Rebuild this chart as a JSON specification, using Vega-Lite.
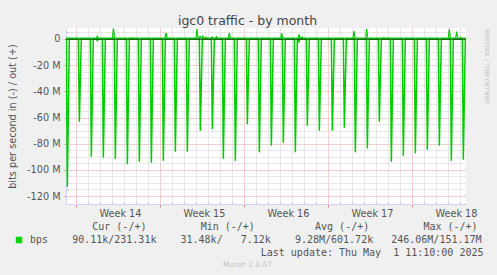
{
  "$schema": "https://vega.github.io/schema/vega-lite/v6.json",
  "width": 400,
  "height": 176,
  "autosize": {"type": "none"},
  "padding": {"left": 66, "top": 28, "right": 31, "bottom": 71},
  "background": "#F0F0F0",
  "title": {"text": "igc0 traffic - by month", "anchor": "middle", "frame": "group", "dx": -18.5, "offset": -9, "baseline": "alphabetic", "font": "DejaVu Sans", "fontSize": 12.5, "fontWeight": "normal", "color": "#444444"},
  "datasets": {
    "traffic": [
      {"t": "2025-03-29T03:10:00Z", "mbps": 0, "s": "in"},
      {"t": "2025-03-29T03:50:00Z", "mbps": 0, "s": "in"}, {"t": "2025-03-29T05:50:00Z", "mbps": -112.9, "s": "in"}, {"t": "2025-03-29T09:50:00Z", "mbps": 0, "s": "in"},
      {"t": "2025-03-30T03:50:00Z", "mbps": 0, "s": "in"}, {"t": "2025-03-30T05:50:00Z", "mbps": -63.2, "s": "in"}, {"t": "2025-03-30T09:50:00Z", "mbps": 0, "s": "in"},
      {"t": "2025-03-31T03:50:00Z", "mbps": 0, "s": "in"}, {"t": "2025-03-31T05:50:00Z", "mbps": -90.0, "s": "in"}, {"t": "2025-03-31T09:50:00Z", "mbps": 0, "s": "in"},
      {"t": "2025-03-31T15:50:00Z", "mbps": 0, "s": "in"}, {"t": "2025-03-31T17:50:00Z", "mbps": -1.3, "s": "in"}, {"t": "2025-03-31T19:50:00Z", "mbps": 0, "s": "in"},
      {"t": "2025-04-01T03:50:00Z", "mbps": 0, "s": "in"}, {"t": "2025-04-01T05:50:00Z", "mbps": -90.7, "s": "in"}, {"t": "2025-04-01T09:50:00Z", "mbps": 0, "s": "in"},
      {"t": "2025-04-02T03:50:00Z", "mbps": 0, "s": "in"}, {"t": "2025-04-02T05:50:00Z", "mbps": -91.7, "s": "in"}, {"t": "2025-04-02T09:50:00Z", "mbps": 0, "s": "in"},
      {"t": "2025-04-03T03:50:00Z", "mbps": 0, "s": "in"}, {"t": "2025-04-03T05:50:00Z", "mbps": -95.8, "s": "in"}, {"t": "2025-04-03T09:50:00Z", "mbps": 0, "s": "in"},
      {"t": "2025-04-04T03:50:00Z", "mbps": 0, "s": "in"}, {"t": "2025-04-04T05:50:00Z", "mbps": -93.8, "s": "in"}, {"t": "2025-04-04T09:50:00Z", "mbps": 0, "s": "in"},
      {"t": "2025-04-05T03:50:00Z", "mbps": 0, "s": "in"}, {"t": "2025-04-05T05:50:00Z", "mbps": -94.6, "s": "in"}, {"t": "2025-04-05T09:50:00Z", "mbps": 0, "s": "in"},
      {"t": "2025-04-06T03:50:00Z", "mbps": 0, "s": "in"}, {"t": "2025-04-06T05:50:00Z", "mbps": -93.0, "s": "in"}, {"t": "2025-04-06T09:50:00Z", "mbps": 0, "s": "in"},
      {"t": "2025-04-07T03:50:00Z", "mbps": 0, "s": "in"}, {"t": "2025-04-07T05:50:00Z", "mbps": -86.1, "s": "in"}, {"t": "2025-04-07T09:50:00Z", "mbps": 0, "s": "in"},
      {"t": "2025-04-08T03:50:00Z", "mbps": 0, "s": "in"}, {"t": "2025-04-08T05:50:00Z", "mbps": -86.1, "s": "in"}, {"t": "2025-04-08T09:50:00Z", "mbps": 0, "s": "in"},
      {"t": "2025-04-09T05:50:00Z", "mbps": 0, "s": "in"}, {"t": "2025-04-09T07:50:00Z", "mbps": -70.1, "s": "in"}, {"t": "2025-04-09T11:50:00Z", "mbps": 0, "s": "in"},
      {"t": "2025-04-10T05:50:00Z", "mbps": 0, "s": "in"}, {"t": "2025-04-10T07:50:00Z", "mbps": -68.8, "s": "in"}, {"t": "2025-04-10T11:50:00Z", "mbps": 0, "s": "in"},
      {"t": "2025-04-11T03:50:00Z", "mbps": 0, "s": "in"}, {"t": "2025-04-11T05:50:00Z", "mbps": -91.5, "s": "in"}, {"t": "2025-04-11T09:50:00Z", "mbps": 0, "s": "in"},
      {"t": "2025-04-12T03:50:00Z", "mbps": 0, "s": "in"}, {"t": "2025-04-12T05:50:00Z", "mbps": -93.0, "s": "in"}, {"t": "2025-04-12T09:50:00Z", "mbps": 0, "s": "in"},
      {"t": "2025-04-13T03:50:00Z", "mbps": 0, "s": "in"}, {"t": "2025-04-13T05:50:00Z", "mbps": -65.2, "s": "in"}, {"t": "2025-04-13T09:50:00Z", "mbps": 0, "s": "in"},
      {"t": "2025-04-14T03:50:00Z", "mbps": 0, "s": "in"}, {"t": "2025-04-14T05:50:00Z", "mbps": -86.6, "s": "in"}, {"t": "2025-04-14T09:50:00Z", "mbps": 0, "s": "in"},
      {"t": "2025-04-15T03:50:00Z", "mbps": 0, "s": "in"}, {"t": "2025-04-15T05:50:00Z", "mbps": -81.6, "s": "in"}, {"t": "2025-04-15T09:50:00Z", "mbps": 0, "s": "in"},
      {"t": "2025-04-16T03:50:00Z", "mbps": 0, "s": "in"}, {"t": "2025-04-16T05:50:00Z", "mbps": -79.3, "s": "in"}, {"t": "2025-04-16T09:50:00Z", "mbps": 0, "s": "in"},
      {"t": "2025-04-17T03:50:00Z", "mbps": 0, "s": "in"}, {"t": "2025-04-17T05:50:00Z", "mbps": -86.6, "s": "in"}, {"t": "2025-04-17T09:50:00Z", "mbps": 0, "s": "in"},
      {"t": "2025-04-17T11:10:00Z", "mbps": 0, "s": "in"}, {"t": "2025-04-17T13:10:00Z", "mbps": -2.0, "s": "in"}, {"t": "2025-04-17T15:10:00Z", "mbps": 0, "s": "in"},
      {"t": "2025-04-18T03:50:00Z", "mbps": 0, "s": "in"}, {"t": "2025-04-18T05:50:00Z", "mbps": -66.3, "s": "in"}, {"t": "2025-04-18T09:50:00Z", "mbps": 0, "s": "in"},
      {"t": "2025-04-19T03:50:00Z", "mbps": 0, "s": "in"}, {"t": "2025-04-19T05:50:00Z", "mbps": -70.1, "s": "in"}, {"t": "2025-04-19T09:50:00Z", "mbps": 0, "s": "in"},
      {"t": "2025-04-20T05:50:00Z", "mbps": 0, "s": "in"}, {"t": "2025-04-20T07:50:00Z", "mbps": -70.1, "s": "in"}, {"t": "2025-04-20T11:50:00Z", "mbps": 0, "s": "in"},
      {"t": "2025-04-21T05:50:00Z", "mbps": 0, "s": "in"}, {"t": "2025-04-21T07:50:00Z", "mbps": -67.8, "s": "in"}, {"t": "2025-04-21T11:50:00Z", "mbps": 0, "s": "in"},
      {"t": "2025-04-22T03:50:00Z", "mbps": 0, "s": "in"}, {"t": "2025-04-22T05:50:00Z", "mbps": -86.6, "s": "in"}, {"t": "2025-04-22T09:50:00Z", "mbps": 0, "s": "in"},
      {"t": "2025-04-23T03:50:00Z", "mbps": 0, "s": "in"}, {"t": "2025-04-23T05:50:00Z", "mbps": -83.6, "s": "in"}, {"t": "2025-04-23T09:50:00Z", "mbps": 0, "s": "in"},
      {"t": "2025-04-24T03:50:00Z", "mbps": 0, "s": "in"}, {"t": "2025-04-24T05:50:00Z", "mbps": -63.2, "s": "in"}, {"t": "2025-04-24T09:50:00Z", "mbps": 0, "s": "in"},
      {"t": "2025-04-25T03:50:00Z", "mbps": 0, "s": "in"}, {"t": "2025-04-25T05:50:00Z", "mbps": -93.8, "s": "in"}, {"t": "2025-04-25T09:50:00Z", "mbps": 0, "s": "in"},
      {"t": "2025-04-26T03:50:00Z", "mbps": 0, "s": "in"}, {"t": "2025-04-26T05:50:00Z", "mbps": -89.2, "s": "in"}, {"t": "2025-04-26T09:50:00Z", "mbps": 0, "s": "in"},
      {"t": "2025-04-27T03:50:00Z", "mbps": 0, "s": "in"}, {"t": "2025-04-27T05:50:00Z", "mbps": -87.4, "s": "in"}, {"t": "2025-04-27T09:50:00Z", "mbps": 0, "s": "in"},
      {"t": "2025-04-28T03:50:00Z", "mbps": 0, "s": "in"}, {"t": "2025-04-28T05:50:00Z", "mbps": -84.6, "s": "in"}, {"t": "2025-04-28T09:50:00Z", "mbps": 0, "s": "in"},
      {"t": "2025-04-29T03:50:00Z", "mbps": 0, "s": "in"}, {"t": "2025-04-29T05:50:00Z", "mbps": -81.6, "s": "in"}, {"t": "2025-04-29T09:50:00Z", "mbps": 0, "s": "in"},
      {"t": "2025-04-30T03:50:00Z", "mbps": 0, "s": "in"}, {"t": "2025-04-30T05:50:00Z", "mbps": -93.0, "s": "in"}, {"t": "2025-04-30T09:50:00Z", "mbps": 0, "s": "in"},
      {"t": "2025-05-01T03:50:00Z", "mbps": 0, "s": "in"}, {"t": "2025-05-01T05:50:00Z", "mbps": -92.3, "s": "in"}, {"t": "2025-05-01T09:50:00Z", "mbps": 0, "s": "in"},
      {"t": "2025-05-01T11:10:00Z", "mbps": 0, "s": "in"},

      {"t": "2025-03-29T03:10:00Z", "mbps": 0.6, "s": "out"},
      {"t": "2025-03-31T15:50:00Z", "mbps": 0.6, "s": "out"}, {"t": "2025-03-31T17:50:00Z", "mbps": 2.2, "s": "out"}, {"t": "2025-03-31T19:50:00Z", "mbps": 0.6, "s": "out"},
      {"t": "2025-04-02T00:10:00Z", "mbps": 0.6, "s": "out"}, {"t": "2025-04-02T02:10:00Z", "mbps": 7.9, "s": "out"}, {"t": "2025-04-02T04:10:00Z", "mbps": 0.6, "s": "out"},
      {"t": "2025-04-03T15:10:00Z", "mbps": 0.6, "s": "out"}, {"t": "2025-04-03T17:10:00Z", "mbps": 1.0, "s": "out"}, {"t": "2025-04-03T19:10:00Z", "mbps": 0.6, "s": "out"},
      {"t": "2025-04-04T15:10:00Z", "mbps": 0.6, "s": "out"}, {"t": "2025-04-04T17:10:00Z", "mbps": 0.9, "s": "out"}, {"t": "2025-04-04T19:10:00Z", "mbps": 0.6, "s": "out"},
      {"t": "2025-04-06T09:10:00Z", "mbps": 0.6, "s": "out"}, {"t": "2025-04-06T11:10:00Z", "mbps": 4.7, "s": "out"}, {"t": "2025-04-06T13:10:00Z", "mbps": 0.6, "s": "out"},
      {"t": "2025-04-08T23:10:00Z", "mbps": 0.6, "s": "out"}, {"t": "2025-04-09T01:10:00Z", "mbps": 7.6, "s": "out"}, {"t": "2025-04-09T03:10:00Z", "mbps": 0.6, "s": "out"},
      {"t": "2025-04-09T05:10:00Z", "mbps": 0.6, "s": "out"}, {"t": "2025-04-09T07:10:00Z", "mbps": 2.0, "s": "out"}, {"t": "2025-04-09T09:10:00Z", "mbps": 0.6, "s": "out"},
      {"t": "2025-04-09T11:10:00Z", "mbps": 0.6, "s": "out"}, {"t": "2025-04-09T13:10:00Z", "mbps": 2.2, "s": "out"}, {"t": "2025-04-09T15:10:00Z", "mbps": 0.6, "s": "out"},
      {"t": "2025-04-09T17:10:00Z", "mbps": 0.6, "s": "out"}, {"t": "2025-04-09T19:10:00Z", "mbps": 1.4, "s": "out"}, {"t": "2025-04-09T21:10:00Z", "mbps": 0.6, "s": "out"},
      {"t": "2025-04-10T05:10:00Z", "mbps": 0.6, "s": "out"}, {"t": "2025-04-10T07:10:00Z", "mbps": 1.6, "s": "out"}, {"t": "2025-04-10T09:10:00Z", "mbps": 0.6, "s": "out"},
      {"t": "2025-04-10T14:10:00Z", "mbps": 0.6, "s": "out"}, {"t": "2025-04-10T16:10:00Z", "mbps": 1.8, "s": "out"}, {"t": "2025-04-10T18:10:00Z", "mbps": 0.6, "s": "out"},
      {"t": "2025-04-11T15:50:00Z", "mbps": 0.6, "s": "out"}, {"t": "2025-04-11T17:50:00Z", "mbps": 4.7, "s": "out"}, {"t": "2025-04-11T19:50:00Z", "mbps": 0.6, "s": "out"},
      {"t": "2025-04-12T13:10:00Z", "mbps": 0.6, "s": "out"}, {"t": "2025-04-12T15:10:00Z", "mbps": 0.9, "s": "out"}, {"t": "2025-04-12T17:10:00Z", "mbps": 0.6, "s": "out"},
      {"t": "2025-04-14T13:10:00Z", "mbps": 0.6, "s": "out"}, {"t": "2025-04-14T15:10:00Z", "mbps": 0.9, "s": "out"}, {"t": "2025-04-14T17:10:00Z", "mbps": 0.6, "s": "out"},
      {"t": "2025-04-16T00:30:00Z", "mbps": 0.6, "s": "out"}, {"t": "2025-04-16T02:30:00Z", "mbps": 4.4, "s": "out"}, {"t": "2025-04-16T04:30:00Z", "mbps": 0.6, "s": "out"},
      {"t": "2025-04-17T11:10:00Z", "mbps": 0.6, "s": "out"}, {"t": "2025-04-17T13:10:00Z", "mbps": 3.6, "s": "out"}, {"t": "2025-04-17T15:10:00Z", "mbps": 0.6, "s": "out"},
      {"t": "2025-04-17T17:10:00Z", "mbps": 0.6, "s": "out"}, {"t": "2025-04-17T19:10:00Z", "mbps": 1.5, "s": "out"}, {"t": "2025-04-17T21:10:00Z", "mbps": 0.6, "s": "out"},
      {"t": "2025-04-18T21:10:00Z", "mbps": 0.6, "s": "out"}, {"t": "2025-04-18T23:10:00Z", "mbps": 0.9, "s": "out"}, {"t": "2025-04-19T01:10:00Z", "mbps": 0.6, "s": "out"},
      {"t": "2025-04-22T01:10:00Z", "mbps": 0.6, "s": "out"}, {"t": "2025-04-22T03:10:00Z", "mbps": 6.1, "s": "out"}, {"t": "2025-04-22T05:10:00Z", "mbps": 0.6, "s": "out"},
      {"t": "2025-04-23T02:30:00Z", "mbps": 0.6, "s": "out"}, {"t": "2025-04-23T04:30:00Z", "mbps": 7.6, "s": "out"}, {"t": "2025-04-23T06:30:00Z", "mbps": 0.6, "s": "out"},
      {"t": "2025-04-24T13:10:00Z", "mbps": 0.6, "s": "out"}, {"t": "2025-04-24T15:10:00Z", "mbps": 1.2, "s": "out"}, {"t": "2025-04-24T17:10:00Z", "mbps": 0.6, "s": "out"},
      {"t": "2025-04-24T21:10:00Z", "mbps": 0.6, "s": "out"}, {"t": "2025-04-24T23:10:00Z", "mbps": 1.0, "s": "out"}, {"t": "2025-04-25T01:10:00Z", "mbps": 0.6, "s": "out"},
      {"t": "2025-04-26T13:10:00Z", "mbps": 0.6, "s": "out"}, {"t": "2025-04-26T15:10:00Z", "mbps": 0.9, "s": "out"}, {"t": "2025-04-26T17:10:00Z", "mbps": 0.6, "s": "out"},
      {"t": "2025-04-28T05:10:00Z", "mbps": 0.6, "s": "out"}, {"t": "2025-04-28T07:10:00Z", "mbps": 0.9, "s": "out"}, {"t": "2025-04-28T09:10:00Z", "mbps": 0.6, "s": "out"},
      {"t": "2025-04-29T23:50:00Z", "mbps": 0.6, "s": "out"}, {"t": "2025-04-30T01:50:00Z", "mbps": 7.4, "s": "out"}, {"t": "2025-04-30T03:50:00Z", "mbps": 0.6, "s": "out"},
      {"t": "2025-04-30T14:30:00Z", "mbps": 0.6, "s": "out"}, {"t": "2025-04-30T16:30:00Z", "mbps": 5.6, "s": "out"}, {"t": "2025-04-30T18:30:00Z", "mbps": 0.6, "s": "out"},
      {"t": "2025-04-30T22:10:00Z", "mbps": 0.6, "s": "out"}, {"t": "2025-05-01T00:10:00Z", "mbps": 1.2, "s": "out"}, {"t": "2025-05-01T02:10:00Z", "mbps": 0.6, "s": "out"},
      {"t": "2025-05-01T11:10:00Z", "mbps": 0.6, "s": "out"}
    ]
  },
  "data": {"name": "traffic"},
  "layer": [
    {
      "transform": [{"filter": "datum.s === 'in'"}],
      "mark": {"type": "line", "strokeWidth": 1.5, "clip": true},
      "encoding": {
        "x": {
          "field": "t", "type": "temporal",
          "scale": {"type": "utc", "domain": [{"year": 2025, "month": 3, "date": 29, "hours": 3, "minutes": 10, "utc": true}, {"year": 2025, "month": 5, "date": 1, "hours": 11, "minutes": 10, "utc": true}]},
          "axis": {
            "orient": "bottom",
            "values": [
              {"year": 2025, "month": 3, "date": 31, "utc": true},
              {"year": 2025, "month": 4, "date": 1, "utc": true}, {"year": 2025, "month": 4, "date": 2, "utc": true}, {"year": 2025, "month": 4, "date": 3, "utc": true},
              {"year": 2025, "month": 4, "date": 4, "utc": true}, {"year": 2025, "month": 4, "date": 5, "utc": true}, {"year": 2025, "month": 4, "date": 7, "utc": true},
              {"year": 2025, "month": 4, "date": 8, "utc": true}, {"year": 2025, "month": 4, "date": 9, "utc": true}, {"year": 2025, "month": 4, "date": 10, "utc": true},
              {"year": 2025, "month": 4, "date": 11, "utc": true}, {"year": 2025, "month": 4, "date": 12, "utc": true}, {"year": 2025, "month": 4, "date": 14, "utc": true},
              {"year": 2025, "month": 4, "date": 15, "utc": true}, {"year": 2025, "month": 4, "date": 16, "utc": true}, {"year": 2025, "month": 4, "date": 17, "utc": true},
              {"year": 2025, "month": 4, "date": 18, "utc": true}, {"year": 2025, "month": 4, "date": 19, "utc": true}, {"year": 2025, "month": 4, "date": 21, "utc": true},
              {"year": 2025, "month": 4, "date": 22, "utc": true}, {"year": 2025, "month": 4, "date": 23, "utc": true}, {"year": 2025, "month": 4, "date": 24, "utc": true},
              {"year": 2025, "month": 4, "date": 25, "utc": true}, {"year": 2025, "month": 4, "date": 26, "utc": true}, {"year": 2025, "month": 4, "date": 28, "utc": true},
              {"year": 2025, "month": 4, "date": 29, "utc": true}, {"year": 2025, "month": 4, "date": 30, "utc": true}, {"year": 2025, "month": 5, "date": 1, "utc": true}
            ],
            "grid": true, "gridColor": "#D2D2D2", "gridDash": [1, 1], "gridWidth": 1,
            "labels": false, "ticks": true, "tickColor": "#C4C4C4", "tickSize": -2,
            "domain": false, "title": null
          }
        },
        "y": {
          "field": "mbps", "type": "quantitative",
          "scale": {"domain": [-126.1, 8.4], "nice": false, "zero": false},
          "axis": {
            "orient": "left",
            "values": [-115, -110, -105, -95, -90, -85, -75, -70, -65, -55, -50, -45, -35, -30, -25, -15, -10, -5, 5],
            "grid": true, "gridColor": "#D2D2D2", "gridDash": [1, 1], "gridWidth": 1,
            "labels": false, "ticks": true, "tickColor": "#C4C4C4", "tickSize": -2,
            "domain": false, "title": null
          }
        },
        "color": {
          "datum": "bps",
          "scale": {"range": ["#00CC00"]},
          "legend": {
            "orient": "none", "legendX": -52, "legendY": 194, "padding": 0,
            "title": "\u200b\u00a0\u00a0\u00a0\u00a0\u00a0\u00a0\u00a0\u00a0\u00a0\u00a0\u00a0\u00a0\u00a0Cur (-/+)\u00a0\u00a0\u00a0\u00a0\u00a0\u00a0\u00a0\u00a0\u00a0Min (-/+)\u00a0\u00a0\u00a0\u00a0\u00a0\u00a0\u00a0\u00a0\u00a0\u00a0Avg (-/+)\u00a0\u00a0\u00a0\u00a0\u00a0\u00a0\u00a0\u00a0\u00a0Max (-/+)",
            "titleFont": "DejaVu Sans Mono", "titleFontSize": 10, "titleFontWeight": "normal", "titleColor": "#555555",
            "titlePadding": 3, "titleLimit": 1000, "titleAnchor": "start",
            "labelExpr": "'bps\u00a0\u00a0\u00a0\u00a090.11k/231.31k\u00a0\u00a0\u00a0\u00a031.48k/\u00a0\u00a0\u00a07.12k\u00a0\u00a0\u00a0\u00a09.28M/601.72k\u00a0\u00a0\u00a0246.06M/151.17M'",
            "labelFont": "DejaVu Sans Mono", "labelFontSize": 10, "labelColor": "#555555", "labelLimit": 1000, "labelOffset": 6,
            "symbolType": "square", "symbolSize": 30, "symbolFillColor": "#00CC00", "symbolStrokeColor": "#00CC00", "symbolStrokeWidth": 1
          }
        }
      }
    },
    {
      "data": {"values": [{"mbps": 0}]},
      "mark": {"type": "rule", "color": "#000000", "strokeWidth": 1.2},
      "encoding": {
        "y": {"field": "mbps", "type": "quantitative", "axis": null}
      }
    },
    {
      "transform": [{"filter": "datum.s === 'out'"}],
      "mark": {"type": "line", "strokeWidth": 1.2, "clip": true},
      "encoding": {
        "x": {
          "field": "t", "type": "temporal",
          "axis": {
            "orient": "bottom",
            "values": [
              {"year": 2025, "month": 3, "date": 30, "utc": true}, {"year": 2025, "month": 4, "date": 6, "utc": true},
              {"year": 2025, "month": 4, "date": 13, "utc": true}, {"year": 2025, "month": 4, "date": 20, "utc": true},
              {"year": 2025, "month": 4, "date": 27, "utc": true}
            ],
            "grid": true, "gridColor": "#EBA3A3", "gridDash": [1, 1], "gridWidth": 1,
            "labels": false, "ticks": true, "tickColor": "#E08A8A", "tickSize": 3,
            "domain": true, "domainColor": "#CFD6F8", "domainWidth": 1,
            "title": "Munin 2.0.67", "titleFont": "DejaVu Sans", "titleFontSize": 7.5, "titleFontWeight": "normal", "titleColor": "#C4C4C4",
            "titleX": 181, "titleY": 60, "titleAlign": "center", "titleBaseline": "middle", "titleAngle": 0
          }
        },
        "y": {
          "field": "mbps", "type": "quantitative",
          "axis": {
            "orient": "left",
            "values": [-120, -100, -80, -60, -40, -20, 0],
            "grid": true, "gridColor": "#EBA3A3", "gridDash": [1, 1], "gridWidth": 1,
            "labels": true, "labelExpr": "datum.value == 0 ? '0\u00a0\u00a0' : datum.value + ' M'",
            "labelFont": "DejaVu Sans", "labelFontSize": 9.7, "labelColor": "#555555", "labelPadding": 4, "labelBaseline": "middle",
            "ticks": true, "tickColor": "#E08A8A", "tickSize": 2,
            "domain": true, "domainColor": "#CFD6F8", "domainWidth": 1,
            "title": "bits per second in (-) / out (+)",
            "titleX": -54, "titleY": 88, "titleAngle": 270, "titleAlign": "center", "titleBaseline": "middle",
            "titleFont": "DejaVu Sans", "titleFontSize": 9.7, "titleFontWeight": "normal", "titleColor": "#555555"
          }
        },
        "color": {"datum": "bps"}
      }
    },
    {
      "transform": [{"filter": "datum.s === 'in'"}],
      "mark": {"type": "line", "opacity": 0, "strokeOpacity": 0, "stroke": "transparent", "clip": true},
      "encoding": {
        "x": {
          "field": "t", "type": "temporal",
          "axis": {
            "orient": "bottom",
            "values": [
              {"year": 2025, "month": 4, "date": 2, "hours": 15, "utc": true}, {"year": 2025, "month": 4, "date": 9, "hours": 15, "utc": true},
              {"year": 2025, "month": 4, "date": 16, "hours": 15, "utc": true}, {"year": 2025, "month": 4, "date": 23, "hours": 15, "utc": true},
              {"year": 2025, "month": 4, "date": 30, "hours": 15, "utc": true}
            ],
            "labelExpr": "'Week ' + utcFormat(datum.value, '%V')",
            "labelFont": "DejaVu Sans", "labelFontSize": 9.7, "labelColor": "#555555",
            "labelPadding": 9, "labelBaseline": "middle", "labelFlush": false, "labelOverlap": false,
            "ticks": false, "tickSize": 0, "grid": false, "domain": false,
            "title": "Last update: Thu May\u00a0\u00a01 11:10:00 2025",
            "titleFont": "DejaVu Sans Mono", "titleFontSize": 10, "titleFontWeight": "normal", "titleColor": "#555555",
            "titleX": 417, "titleY": 48, "titleAlign": "right", "titleBaseline": "middle", "titleAngle": 0
          }
        },
        "y": {
          "field": "mbps", "type": "quantitative",
          "axis": {
            "orient": "right", "labels": false, "ticks": false, "grid": false, "domain": false,
            "title": "RRDTOOL / TOBI OETIKER",
            "titleX": 20.7, "titleY": 38, "titleAngle": 90, "titleAlign": "center", "titleBaseline": "middle",
            "titleFont": "DejaVu Sans", "titleFontSize": 5.8, "titleFontWeight": "normal", "titleColor": "#C0C0C0"
          }
        }
      }
    }
  ],
  "resolve": {"axis": {"x": "independent", "y": "independent"}},
  "config": {
    "view": {"stroke": null, "fill": "#FFFFFF"},
    "font": "DejaVu Sans"
  }
}
